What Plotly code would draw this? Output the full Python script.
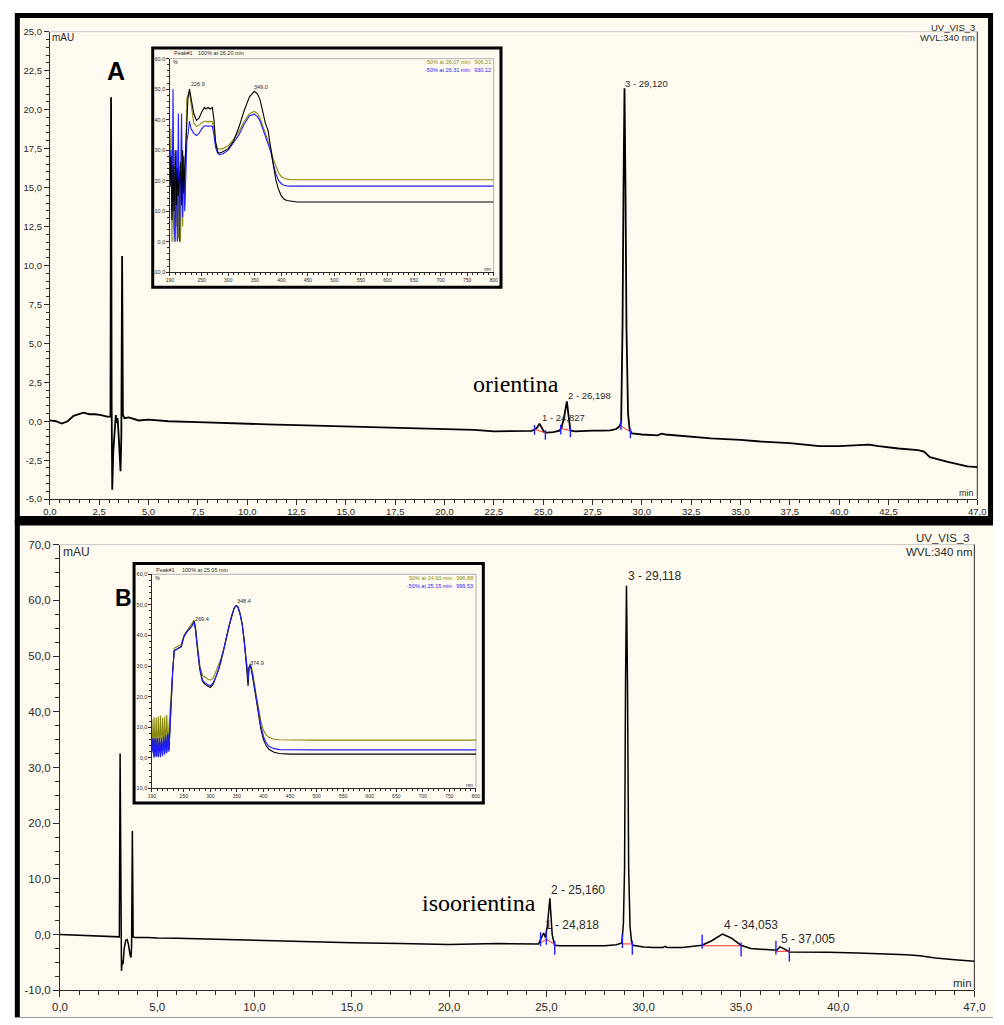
import plotly.graph_objects as go

W, H = 1004, 1025

# ---------------- Chromatogram A (orientina) ----------------
a_time = [0.0, 0.3, 0.6, 0.9, 1.2, 1.5, 1.7, 2.0, 2.3, 2.6, 2.9, 3.07, 3.10, 3.13, 3.16,
          3.21, 3.28, 3.34, 3.39, 3.43, 3.48, 3.54, 3.58, 3.62, 3.66, 3.70, 3.78, 4.0,
          4.5, 5.0, 6.0, 7.5, 8.5, 10.0, 11.0, 12.5, 14.0, 15.0, 16.5, 17.5, 19.0, 20.0,
          21.5, 22.5, 23.5, 24.4, 24.56, 24.7, 24.81, 24.92, 25.05, 25.2, 25.5, 25.8,
          25.92, 26.05, 26.2, 26.3, 26.38, 26.6, 27.0, 27.5, 28.0, 28.4, 28.7, 28.85,
          28.95, 29.02, 29.07, 29.12, 29.17, 29.22, 29.3, 29.38, 29.5, 30.0, 30.8, 31.0,
          31.2, 32.5, 33.5, 35.0, 36.0, 37.5, 38.5, 39.0, 40.0, 41.0, 41.5, 42.0, 43.0,
          44.0, 44.3, 44.6, 45.0, 45.5, 46.0, 46.5, 47.0]
a_mau = [0.05, 0.0, -0.15, 0.0, 0.35, 0.5, 0.55, 0.45, 0.45, 0.4, 0.3, 0.3, 20.8, 1.0, -4.4,
         -2.0, -0.2, 0.4, -0.1, 0.2, -0.8, -3.0, -3.2, -1.0, 10.6, 0.4, 0.2, 0.25,
         0.05, 0.1, 0.0, -0.05, -0.1, -0.15, -0.2, -0.25, -0.3, -0.35, -0.4, -0.4, -0.45, -0.5,
         -0.55, -0.65, -0.65, -0.62, -0.55, -0.4, -0.15, -0.45, -0.7, -0.73, -0.7, -0.62,
         -0.45, 0.2, 1.28, 0.2, -0.6, -0.65, -0.62, -0.6, -0.6, -0.58, -0.5, -0.35,
         -0.1, 6.0, 15.0, 21.37, 15.0, 6.0, 0.5, -0.55, -0.78, -0.85, -0.9, -0.8,
         -0.85, -1.0, -1.1, -1.2, -1.3, -1.4, -1.55, -1.6, -1.6, -1.55, -1.5, -1.6, -1.75,
         -1.85, -1.95, -2.3, -2.45, -2.6, -2.75, -2.9, -2.95]

a_peak_text = ["1 - 24,827", "2 - 26,198", "3 - 29,120"]
a_peak_tx = [24.88, 26.22, 29.12]
a_peak_ty = [0.21, 1.66, 21.7]

# integration baselines (red) and delimiters (blue)
a_base_x = [24.56, 25.11, None, 25.89, 26.38, None, 28.94, 29.42]
a_base_y = [-0.51, -0.75, None, -0.46, -0.59, None, -0.30, -0.68]
a_delim_x = [24.56, 25.11, 25.89, 26.38, 28.94, 29.42]
a_delim_y = [-0.55, -0.87, -0.54, -0.71, -0.24, -0.78]

a_xtick_vals = [0, 2.5, 5, 7.5, 10, 12.5, 15, 17.5, 20, 22.5, 25, 27.5, 30, 32.5, 35,
                37.5, 40, 42.5, 45, 47]
a_xtick_text = ["0,0", "2,5", "5,0", "7,5", "10,0", "12,5", "15,0", "17,5", "20,0",
                "22,5", "25,0", "27,5", "30,0", "32,5", "35,0", "37,5", "40,0", "42,5",
                "", "47,0"]
a_ytick_vals = [-5, -2.5, 0, 2.5, 5, 7.5, 10, 12.5, 15, 17.5, 20, 22.5, 25]

# ---------------- Chromatogram B (isoorientina) ----------------
b_time = [0.0, 1.0, 2.0, 2.8, 3.05, 3.09, 3.12, 3.16, 3.2, 3.24, 3.3, 3.38, 3.45, 3.52,
          3.6, 3.65, 3.68, 3.72, 3.76, 3.85, 4.5, 5.0, 6.0, 7.5, 10.0, 12.5, 15.0, 17.5,
          20.0, 22.5, 24.0, 24.6, 24.75, 24.86, 24.95, 25.05, 25.18, 25.3, 25.42, 25.7,
          26.5, 27.5, 28.0, 28.6, 28.88, 28.96, 29.02, 29.07, 29.118, 29.17, 29.23, 29.3,
          29.38, 29.45, 30.0, 30.5, 31.0, 31.1, 31.2, 32.0, 32.5, 33.0, 33.5, 34.05, 34.5,
          35.0, 35.5, 36.5, 36.85, 37.0, 37.2, 37.5, 38.5, 39.5, 41.0, 42.0, 43.5, 44.2,
          45.0, 46.0, 47.0]
b_mau = [0.0, -0.1, -0.2, -0.3, -0.4, 32.5, -2.0, -6.5, -4.6, -5.3, -2.5, -1.0, -0.9, -1.8,
         -3.6, -4.1, -2.0, 18.6, -0.4, -0.5, -0.5, -0.6, -0.65, -0.8, -1.05, -1.3, -1.45, -1.6,
         -1.75, -1.6, -1.65, -1.7, -0.5, 0.3, -0.5, 1.5, 6.5, 0.0, -1.9, -2.0,
         -2.0, -2.0, -2.0, -1.8, -1.5, 2.0, 12.0, 45.0, 62.6, 45.0, 12.0, 1.5,
         -1.3, -1.9, -2.2, -2.3, -2.3, -2.1, -2.3, -2.3, -2.1, -1.9, -1.1, 0.1, -0.6,
         -1.9, -2.5, -2.8, -2.8, -2.2, -2.5, -3.1, -3.1, -3.15, -3.3, -3.4, -3.6, -3.8,
         -4.2, -4.5, -4.8]

b_peak_text = ["1 - 24,818", "2 - 25,160", "3 - 29,118", "4 - 34,053", "5 - 37,005"]
b_peak_tx = [24.9, 25.2, 29.13, 34.07, 37.03]
b_peak_ty = [1.74, 7.94, 64.3, 1.74, -0.74]

b_base_x = [24.7, 25.0, 25.43, None, 28.91, 29.42, None, 33.01, 35.01, None, 36.8, 37.49]
b_base_y = [-1.5, -0.8, -1.8, None, -1.67, -1.67, None, -2.0, -2.0, None, -3.0, -3.0]
b_delim_x = [24.7, 25.0, 25.43, 28.91, 29.42, 33.01, 35.01, 36.8, 37.49]
b_delim_y = [-0.83, -0.57, -2.34, -1.16, -2.34, -1.28, -2.66, -2.34, -3.58]

b_xtick_vals = [0, 5, 10, 15, 20, 25, 30, 35, 40, 45, 47]
b_xtick_text = ["0,0", "5,0", "10,0", "15,0", "20,0", "25,0", "30,0", "35,0", "40,0", "", "47,0"]
b_ytick_vals = [-10, 0, 10, 20, 30, 40, 50, 60, 70]

# ---------------- UV spectrum of peak in A ----------------
sa_nm = [190, 192, 194, 196, 198, 200, 202, 204, 206, 208, 210, 212, 214, 216, 218, 220,
         222, 224, 226.9, 230, 235, 240, 245, 250, 255, 258, 262, 266, 270, 273, 276, 280,
         283, 290, 300, 310, 320, 330, 340, 349, 355, 360, 365, 370, 375, 380, 385, 390,
         395, 400, 405, 410, 420, 430, 450, 500, 600, 700, 800]
sa_black = [18, 28, 7, 25, 10, 30, 12, 24, 15, 20, 26, 12, 30, 16, 25, 30,
            44, 47, 50, 47, 42, 39.8, 40.5, 42.5, 44, 43.5, 44, 43.5, 44, 40, 33, 29.5,
            29, 29.5, 30.5, 33, 37.5, 43, 47.5, 49.3, 48.5, 46.5, 42.5, 38.8, 36.5, 30, 25, 20,
            17, 15, 14, 13.5, 13.2, 13.0, 13.0, 13.0, 13.0, 13.0, 13.0]
sa_olive = [20, 37, 0, 30, 0, 25, 5, 30, 1, 22, 0, 26, 5, 28, 12, 30,
            47, 48, 49, 45, 39, 37.8, 38.2, 39, 39.5, 39.5, 39.2, 39.5, 39.3, 37, 32, 30.5,
            30.3, 30.5, 31.5, 33.5, 36, 39.5, 42, 42.7, 42, 40.5, 38, 35.5, 33.5, 30.5, 27, 24.5,
            22.5, 21.3, 20.8, 20.5, 20.3, 20.3, 20.3, 20.3, 20.3, 20.3, 20.3]
sa_blue = [18, 30, 10, 50, 5, 0, 30, 0, 42, 0, 20, 42, 8, 28, 10, 25,
           33, 35, 39.5, 37, 35.5, 34.8, 35.5, 37, 38, 38, 37.8, 38, 37.8, 35, 31, 29,
           28.5, 28.8, 30, 32.5, 35, 38.5, 41.3, 41.8, 41, 39.5, 37, 34.5, 32.5, 29.5, 25.5, 22,
           20, 19, 18.5, 18.3, 18.2, 18.2, 18.2, 18.2, 18.2, 18.2, 18.2]
sa_label_text = ["226.9", "349.0"]
sa_label_x = [227, 347]
sa_label_y = [51.6, 50.8]

# ---------------- UV spectrum of peak in B ----------------
sb_nm = [190, 192, 194, 196, 198, 200, 202, 204, 206, 208, 210, 212, 214, 216, 218, 220,
         222, 224, 226, 229, 232, 236, 240, 245, 250, 255, 260, 265, 269.4, 272, 276, 280,
         285, 290, 295, 300, 305, 310, 315, 320, 325, 330, 335, 340, 345, 348.4, 352, 356,
         360, 364, 368, 370, 371, 372, 373, 374.9, 377, 380, 385, 390, 395, 400, 405, 410,
         420, 430, 450, 500, 800]
sb_black = [2, 6, 0.5, 6, 0.5, 6, 0.5, 6, 0.5, 6, 1, 6.5, 1.5, 7, 2, 7.5,
            2.5, 11, 19, 28, 35, 35.5, 35.8, 36.3, 39.5, 41, 42, 43, 44.5, 42, 35, 29,
            25, 24, 23.5, 23, 24, 26, 28.5, 31.5, 35, 39, 43, 46.5, 49, 49.8, 49.3, 47,
            43.5, 38, 31, 27, 23.5, 27, 29.5, 30.2, 29, 26, 20, 14, 9.5, 6, 4, 2.8,
            1.8, 1.4, 1.2, 1.2, 1.2]
sb_blue = [1.5, 6.5, 0, 6.5, 0.2, 6.5, 0.2, 6.5, 0.2, 6.5, 0.5, 7, 1, 7.5, 1.5, 8,
           2, 11, 19, 28, 35, 35.5, 35.8, 36.3, 39.5, 41, 42, 43, 44.5, 42, 35.5, 29.5,
           25.5, 24.5, 24, 23.6, 24.5, 26.3, 28.8, 31.8, 35.2, 39.2, 43, 46.5, 49, 49.8, 49.3, 47,
           43.5, 38, 31.5, 28, 25.5, 28, 29.8, 30.3, 29.2, 26.5, 21, 15, 10.5, 7, 5, 3.8,
           3.0, 2.7, 2.6, 2.6, 2.6]
sb_olive = [12.5, 2, 13.3, 2, 13.2, 2, 13.5, 2, 13.8, 2.5, 13, 3, 13.5, 3, 14, 4,
            10, 15, 19, 30, 35.8, 36.2, 36.5, 37, 40, 41.3, 42.3, 43.5, 45, 43, 36, 30.5,
            27, 26.3, 25.8, 25.4, 26, 28, 30, 32.5, 35.5, 39.3, 43, 46.5, 49, 49.8, 49.3, 47.3,
            44, 38.5, 31.5, 28, 26, 28.5, 30, 30.8, 30, 27.5, 22, 16.5, 12, 9, 7.5, 6.7,
            6.1, 5.9, 5.8, 5.8, 5.8]
sb_label_text = ["269.4", "348.4", "374.9"]
sb_label_x = [270, 348.7, 373.2]
sb_label_y = [45.5, 51.4, 30.9]

spec_xtick_vals = [190, 250, 300, 350, 400, 450, 500, 550, 600, 650, 700, 750, 800]
spec_ytick_vals = [-10, 0, 10, 20, 30, 40, 50, 60]

# ---------------- styling ----------------
CREAM = "#FFFAEF"
INK = "#2a2a2a"
OLIVE = "#8a8a10"
BLUE = "#1f1fff"
RED = "#ff2a2a"
SANS = "Liberation Sans, Arial, sans-serif"
SERIF = "Liberation Serif, Times New Roman, serif"


def fx(x):
    return x / W


def fy(y):
    return 1 - y / H


def comma(v, nd=1):
    return f"{v:.{nd}f}".replace(".", ",")


def frange(a, b, step):
    out, v = [], a
    while v <= b + 1e-9:
        out.append(round(v, 4))
        v += step
    return out


fig = go.Figure()

# chromatogram A
fig.add_trace(go.Scatter(x=a_time, y=a_mau, mode="lines", line=dict(color="black", width=1.8),
                         xaxis="x", yaxis="y", hoverinfo="skip"))
fig.add_trace(go.Scatter(x=a_base_x, y=a_base_y, mode="lines", line=dict(color=RED, width=1),
                         xaxis="x", yaxis="y", connectgaps=False, hoverinfo="skip"))
fig.add_trace(go.Scatter(x=a_delim_x, y=a_delim_y, mode="markers",
                         marker=dict(symbol="line-ns", size=7, line=dict(color=BLUE, width=1.4)),
                         xaxis="x", yaxis="y", hoverinfo="skip"))

# chromatogram B
fig.add_trace(go.Scatter(x=b_time, y=b_mau, mode="lines", line=dict(color="black", width=1.5),
                         xaxis="x2", yaxis="y2", hoverinfo="skip"))
fig.add_trace(go.Scatter(x=b_base_x, y=b_base_y, mode="lines", line=dict(color=RED, width=1),
                         xaxis="x2", yaxis="y2", connectgaps=False, hoverinfo="skip"))
fig.add_trace(go.Scatter(x=b_delim_x, y=b_delim_y, mode="markers",
                         marker=dict(symbol="line-ns", size=10, line=dict(color=BLUE, width=1.4)),
                         xaxis="x2", yaxis="y2", hoverinfo="skip"))

# spectra
for ys, col in [(sa_olive, OLIVE), (sa_blue, BLUE), (sa_black, "black")]:
    fig.add_trace(go.Scatter(x=sa_nm, y=ys, mode="lines", line=dict(color=col, width=1.1),
                             xaxis="x3", yaxis="y3", hoverinfo="skip"))
for ys, col in [(sb_olive, OLIVE), (sb_black, "black"), (sb_blue, BLUE)]:
    fig.add_trace(go.Scatter(x=sb_nm, y=ys, mode="lines", line=dict(color=col, width=1.1),
                             xaxis="x4", yaxis="y4", hoverinfo="skip"))


def main_axis(domain, anchor, vals, text, minor_vals, size, tlen, mlen):
    return dict(domain=domain, anchor=anchor, tickmode="array", tickvals=vals, ticktext=text,
                ticks="outside", ticklen=tlen, tickwidth=1, tickcolor=INK,
                showline=True, linecolor=INK, linewidth=1, showgrid=False, zeroline=False,
                tickfont=dict(family=SANS, size=size, color=INK),
                minor=dict(tickmode="array", tickvals=minor_vals, ticks="outside",
                           ticklen=mlen, tickcolor=INK, showgrid=False),
                fixedrange=True)


ax_a = main_axis([fx(42.7), fx(988)], "y", a_xtick_vals, a_xtick_text,
                 frange(0, 47, 0.5), 9.5, 5, 3)
ax_a["range"] = [0, 47]
ax_a["ticklabelstandoff"] = -2
ay_a = main_axis([fy(499), fy(26)], "x", a_ytick_vals, [comma(v) for v in a_ytick_vals],
                 frange(-5, 25, 0.5), 9.5, 5, 3)
ay_a["range"] = [-5, 25]

ax_b = main_axis([fx(53), fx(985)], "y2", b_xtick_vals, b_xtick_text,
                 frange(0, 47, 1.0), 11.5, 6, 3.5)
ax_b["range"] = [0, 47]
ay_b = main_axis([fy(996), fy(545)], "x2", b_ytick_vals, [comma(v) for v in b_ytick_vals],
                 frange(-10, 70, 2.5), 11.5, 6, 3.5)
ay_b["range"] = [-10, 70]


def spec_axes(xdom, ydom, xa, ya):
    sx = main_axis(xdom, ya, spec_xtick_vals, [str(v) for v in spec_xtick_vals],
                   frange(190, 800, 10), 5, 2.5, 1.5)
    sx["range"] = [190, 800]
    sy = main_axis(ydom, xa, spec_ytick_vals, [comma(v) for v in spec_ytick_vals],
                   frange(-10, 60, 2), 5.5, 2.5, 1.5)
    sy["range"] = [-10, 60]
    return sx, sy


sx3, sy3 = spec_axes([fx(165), fx(495)], [fy(269.3), fy(53.3)], "x3", "y3")
sx4, sy4 = spec_axes([fx(146.7), fx(477)], [fy(791.7), fy(575)], "x4", "y4")

shapes = []


def rect(x0, y0, x1, y1, fill=None, lc=None, lw=0):
    shapes.append(dict(type="rect", xref="paper", yref="paper", x0=fx(x0), x1=fx(x1),
                       y0=fy(y1), y1=fy(y0), fillcolor=fill or "rgba(0,0,0,0)",
                       line=dict(color=lc or "rgba(0,0,0,0)", width=lw), layer="below"))


def seg(x0, y0, x1, y1, color, lw):
    shapes.append(dict(type="line", xref="paper", yref="paper", x0=fx(x0), x1=fx(x1),
                       y0=fy(y0), y1=fy(y1), line=dict(color=color, width=lw), layer="below"))


# panel backgrounds and frames
rect(7, 7, 1004, 520, fill=CREAM)
rect(7, 520, 1004, 1023, fill=CREAM)
rect(9.5, 9.5, 1001.5, 518.5, lc="black", lw=5)
seg(7, 523, 1004, 523, "black", 5)
seg(9.5, 520, 9.5, 1023, "black", 5)
seg(7, 1023.5, 1004, 1023.5, "#9a9a9a", 1)

# plot-area borders of the chromatograms
seg(42.7, 26, 988, 26, "#c8c8c8", 1)
seg(988, 26, 988, 499, INK, 1)
seg(53, 545, 985, 545, "#c8c8c8", 1)
seg(985, 545, 985, 996, INK, 1)

# inset frames
rect(147.5, 42.5, 502.5, 284.5, fill=CREAM, lc="black", lw=3)
seg(165, 53.3, 495, 53.3, "#b0b0b0", 1)
seg(495, 53.3, 495, 269.3, "#b0b0b0", 1)
rect(128.5, 564, 484.5, 806.5, fill=CREAM, lc="black", lw=3)
seg(146.7, 575, 477, 575, "#b0b0b0", 1)
seg(477, 575, 477, 791.7, "#b0b0b0", 1)

ann = []


def ptext(x, y, s, size, color=INK, anchor="left", family=SANS, bold=False):
    ann.append(dict(xref="paper", yref="paper", x=fx(x), y=fy(y), text=f"<b>{s}</b>" if bold else s,
                    showarrow=False, xanchor=anchor, yanchor="middle",
                    font=dict(family=family, size=size, color=color)))


def dtext(xr, yr, x, y, s, size, color=INK):
    ann.append(dict(xref=xr, yref=yr, x=x, y=y, text=s, showarrow=False, xanchor="left",
                    yanchor="middle", xshift=-1, font=dict(family=SANS, size=size, color=color)))


# panel A texts
ptext(43, 32, "mAU", 10)
ptext(987.5, 21.5, "UV_VIS_3", 9.5, anchor="right")
ptext(988, 31.5, "WVL:340 nm", 9.5, anchor="right")
ptext(987, 493, "min", 9, anchor="right")
ptext(110, 66, "A", 25, color="black", anchor="center", family="Liberation Sans, Arial", bold=True)
ptext(517.5, 382, "orientina", 24, color="black", anchor="center", family=SERIF)
for s, x, y in zip(a_peak_text, a_peak_tx, a_peak_ty):
    dtext("x", "y", x, y, s, 9.5)

# panel B texts
ptext(54, 552.5, "mAU", 12)
ptext(983, 538.5, "UV_VIS_3", 11.5, anchor="right")
ptext(985, 552.5, "WVL:340 nm", 11.5, anchor="right")
ptext(985, 989, "min", 11.5, anchor="right")
ptext(118, 599, "B", 23, color="black", anchor="center", family="Liberation Sans, Arial", bold=True)
ptext(480, 908, "isoorientina", 24, color="black", anchor="center", family=SERIF)
for s, x, y in zip(b_peak_text, b_peak_tx, b_peak_ty):
    dtext("x2", "y2", x, y, s, 12)

# inset A texts
ptext(167, 47.5, "Peak#1", 5.5)
ptext(191.5, 47.5, "100% at 26.20 min", 5.5)
ptext(166.5, 57, "%", 5.5)
ptext(494.5, 57, "50% at 26.07 min:  906.21", 5.5, color=OLIVE, anchor="right")
ptext(494.5, 65, "-50% at 26.31 min:  930.12", 5.5, color=BLUE, anchor="right")
ptext(494.5, 266, "nm", 5, anchor="right")
for s, x, y in zip(sa_label_text, sa_label_x, sa_label_y):
    dtext("x3", "y3", x, y, s, 5.5)

# inset B texts
ptext(149, 570.5, "Peak#1", 5.5)
ptext(175, 570.5, "100% at 25.05 min", 5.5)
ptext(148, 578.5, "%", 5.5)
ptext(476.5, 578.5, "50% at 24.93 min:  996.88", 5.5, color=OLIVE, anchor="right")
ptext(476.5, 586.5, "-50% at 25.15 min:  999.53", 5.5, color=BLUE, anchor="right")
ptext(476.5, 788, "nm", 5, anchor="right")
for s, x, y in zip(sb_label_text, sb_label_x, sb_label_y):
    dtext("x4", "y4", x, y, s, 5.5)

fig.update_layout(
    width=W, height=H, margin=dict(l=0, r=0, t=0, b=0),
    paper_bgcolor="white", plot_bgcolor="rgba(0,0,0,0)",
    showlegend=False, shapes=shapes, annotations=ann,
    xaxis=ax_a, yaxis=ay_a, xaxis2=ax_b, yaxis2=ay_b,
    xaxis3=sx3, yaxis3=sy3, xaxis4=sx4, yaxis4=sy4,
)

fig.write_html("out.html")
